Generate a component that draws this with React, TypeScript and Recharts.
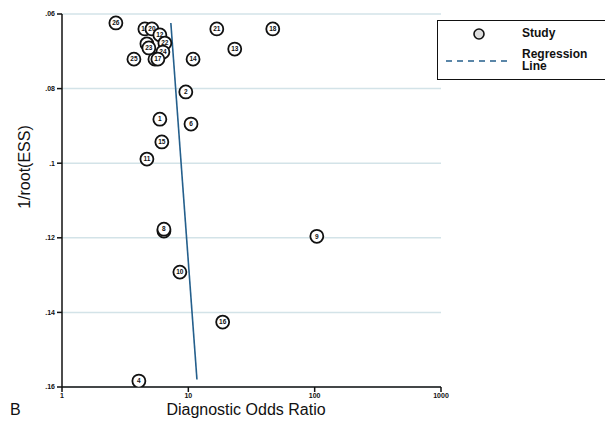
import { ScatterChart, Scatter, XAxis, YAxis, CartesianGrid } from 'recharts'

// study number, diagnostic odds ratio, 1/root(ESS)
const studyIds = [3, 5, 7, 26, 19, 20, 12, 22, 23, 24, 25, 17, 21, 18, 13, 14, 2, 1, 6, 15, 11, 8, 9, 10, 16, 4]
const oddsRatios = [4.7, 5.44, 6.41, 2.67, 4.53, 5.15, 5.95, 6.52, 4.87, 6.29, 3.71, 5.74, 16.8, 46.6, 23.3, 10.9, 9.55, 5.95, 10.5, 6.17, 4.7, 6.41, 104, 8.57, 18.7, 4.06]
const invRootEss = [0.068, 0.0721, 0.1182, 0.0624, 0.064, 0.064, 0.0656, 0.0678, 0.0691, 0.0702, 0.0721, 0.0721, 0.064, 0.064, 0.0694, 0.0721, 0.0809, 0.0882, 0.0895, 0.0943, 0.0989, 0.1177, 0.1196, 0.1292, 0.1426, 0.1584]

// regression line end points
const regX = [7.27, 11.7]
const regY = [0.0624, 0.158]

const xTicks = [1, 10, 100, 1000]
const yTicks = [0.06, 0.08, 0.1, 0.12, 0.14, 0.16]

const studies = studyIds.map((id, i) => ({ id, x: oddsRatios[i], y: invRootEss[i] }))
const regression = regX.map((x, i) => ({ x, y: regY[i] }))

const lineColor = '#245f8c'
const font = 'Arial, "Liberation Sans", sans-serif'

const StudyMarker = (props: any) => {
    const { cx, cy, payload } = props
    return (
        <g>
            <circle cx={cx} cy={cy} r={6.5} fill="#fff" stroke="#111" strokeWidth={1.8} />
            <text x={cx} y={cy + 2.2} textAnchor="middle" fontSize={6.5} fontWeight="bold" fontFamily={font} fill="#111">
                {payload.id}
            </text>
        </g>
    )
}

const LegendBox = () => (
    <div style={{ position: 'absolute', left: 437, top: 20, border: '1.5px solid #111', width: 200, height: 58, fontFamily: font, fontSize: 12, fontWeight: 'bold', background: '#fff', color: '#111' }}>
        <svg width={80} height={58} style={{ position: 'absolute', left: 0, top: 0 }}>
            <circle cx={41} cy={13} r={5} fill="#ddd" stroke="#111" strokeWidth={1.6} />
            <line x1={8} y1={40} x2={74} y2={40} stroke={lineColor} strokeWidth={1.5} strokeDasharray="6 5" />
        </svg>
        <div style={{ position: 'absolute', left: 84, top: 6, lineHeight: '13px' }}>Study</div>
        <div style={{ position: 'absolute', left: 84, top: 27, lineHeight: '12px' }}>Regression<br />Line</div>
    </div>
)

export default function App() {
    return (
        <div style={{ position: 'absolute', left: 0, top: 0, width: 605, height: 426, background: '#fff', overflow: 'hidden' }}>
            <ScatterChart width={605} height={426} margin={{ top: 14, right: 164, bottom: 9, left: 32 }}>
                <CartesianGrid horizontal={true} vertical={false} stroke="#d3e3e8" strokeWidth={1.5} />
                <XAxis
                    dataKey="x"
                    type="number"
                    scale="log"
                    domain={[1, 1000]}
                    ticks={xTicks}
                    height={30}
                    allowDataOverflow
                    stroke="#111"
                    strokeWidth={1.5}
                    tickSize={5}
                    tickMargin={1}
                    tick={{ fontSize: 7, fontWeight: 'bold', fill: '#111', fontFamily: font }}
                />
                <YAxis
                    dataKey="y"
                    type="number"
                    reversed
                    domain={[0.06, 0.16]}
                    ticks={yTicks}
                    width={30}
                    allowDataOverflow
                    stroke="#111"
                    strokeWidth={1.5}
                    tickSize={5}
                    tickMargin={2}
                    tickFormatter={(v: number) => String(Number(v.toFixed(2))).replace(/^0/, '')}
                    tick={{ fontSize: 7, fontWeight: 'bold', fill: '#111', fontFamily: font }}
                />
                <Scatter
                    data={regression}
                    line={{ stroke: lineColor, strokeWidth: 1.6 }}
                    shape={() => <g />}
                    legendType="none"
                    isAnimationActive={false}
                />
                <Scatter data={studies} shape={StudyMarker} isAnimationActive={false} />
            </ScatterChart>
            <LegendBox />
            <div style={{ position: 'absolute', left: 25, top: 167, transform: 'translate(-50%, -50%) rotate(-90deg)', fontFamily: font, fontSize: 16, whiteSpace: 'nowrap', color: '#111' }}>
                1/root(ESS)
            </div>
            <div style={{ position: 'absolute', left: 246, top: 410, transform: 'translate(-50%, -50%)', fontFamily: font, fontSize: 16, whiteSpace: 'nowrap', color: '#111' }}>
                Diagnostic Odds Ratio
            </div>
            <div style={{ position: 'absolute', left: 10, top: 410, transform: 'translateY(-50%)', fontFamily: font, fontSize: 16, color: '#111' }}>
                B
            </div>
        </div>
    )
}
